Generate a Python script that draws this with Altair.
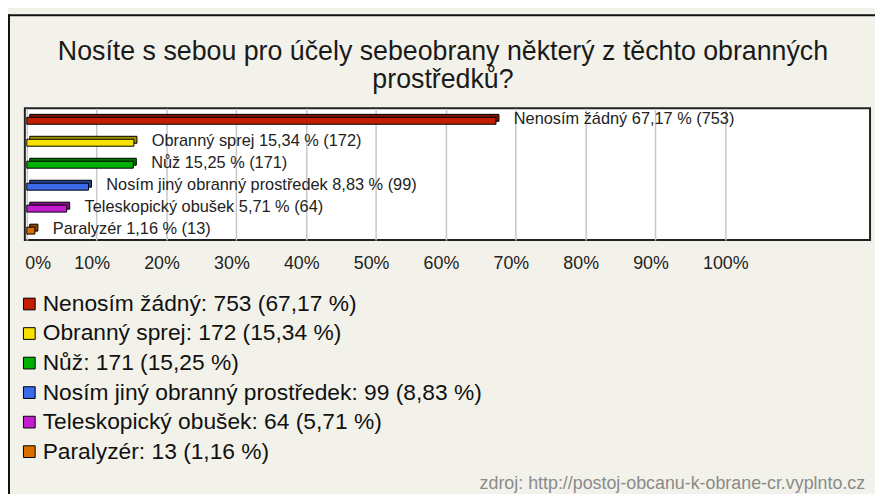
import altair as alt
import pandas as pd

categories = ["Nenosím žádný", "Obranný sprej", "Nůž",
              "Nosím jiný obranný prostředek", "Teleskopický obušek", "Paralyzér"]
counts = [753, 172, 171, 99, 64, 13]
percents = [67.17, 15.34, 15.25, 8.83, 5.71, 1.16]
colors = ["#c41e00", "#f8e000", "#00b000", "#3a6ae8", "#c41cd0", "#dc6e00"]
axis_ticks = [0, 10, 20, 30, 40, 50, 60, 70, 80, 90, 100]
title_lines = ["Nosíte s sebou pro účely sebeobrany některý z těchto obranných",
               "prostředků?"]
source_text = "zdroj: http://postoj-obcanu-k-obrane-cr.vyplnto.cz"

FONT = "Liberation Sans, Arial, sans-serif"


def fmt(p):
    return f"{p:.2f}".replace(".", ",")


bar_labels = [f"{c} {fmt(p)} % ({n})" for c, p, n in zip(categories, percents, counts)]
legend_labels = [f"{c}: {n} ({fmt(p)} %)" for c, p, n in zip(categories, percents, counts)]

df = pd.DataFrame({
    "cat": categories,
    "pct": percents,
    "base": [0] * len(categories),
    "count": counts,
    "bar_label": bar_labels,
    "legend_label": legend_labels,
})

y_enc = alt.Y("cat:N", sort=categories, axis=None,
              scale=alt.Scale(paddingInner=0, paddingOuter=0))
x_enc = alt.X(
    "pct:Q",
    scale=alt.Scale(domain=[-0.28, 120.72], nice=False, zero=False),
    axis=alt.Axis(
        values=axis_ticks, labelExpr="datum.value + '%'", title=None,
        domain=False, ticks=False, grid=True, gridColor="#c8c8c8", gridWidth=1.5,
        labelFont=FONT, labelFontSize=18, labelColor="#222", labelPadding=15,
        labelAlign="left",
        labelOffset={"condition": {"test": "datum.value == 0", "value": -2}, "value": -23},
    ),
)
color_enc = alt.Color(
    "legend_label:N", sort=legend_labels,
    scale=alt.Scale(domain=legend_labels, range=colors),
    legend=alt.Legend(
        orient="none", legendX=-7, legendY=186, title=None,
        symbolType="square", symbolSize=140, symbolStrokeColor="#000",
        symbolStrokeWidth=1, symbolOpacity=1,
        labelFont=FONT, labelFontSize=23, labelColor="#111", labelLimit=900,
        rowPadding=5.8, labelOffset=2, padding=0,
    ),
)

base = alt.Chart(df)

back = base.mark_bar(size=7, stroke="#000", strokeWidth=1, xOffset=3, x2Offset=3,
                     yOffset=-1.5, y2Offset=-1.5, opacity=1).encode(
    x=x_enc, x2="base:Q", y=y_enc, color=color_enc)
back_shade = base.mark_bar(size=7, color="#000", opacity=0.35, xOffset=3, x2Offset=3,
                           yOffset=-1.5, y2Offset=-1.5).encode(
    x="pct:Q", x2="base:Q", y=alt.Y("cat:N", sort=categories))
front = base.mark_bar(size=7, stroke="#000", strokeWidth=1, yOffset=1.5,
                      y2Offset=1.5, opacity=1).encode(
    x="pct:Q", x2="base:Q", y=alt.Y("cat:N", sort=categories), color=color_enc)
labels = base.mark_text(align="left", baseline="middle", dx=18, dy=0, font=FONT,
                        fontSize=16.5, color="#222").encode(
    x="pct:Q", y=alt.Y("cat:N", sort=categories), text="bar_label:N")

one = pd.DataFrame({"a": [0]})
title1 = alt.Chart(pd.DataFrame({"t": [title_lines[0]]})).mark_text(
    font=FONT, fontSize=27, align="center", baseline="middle", color="#1a1a1a").encode(
    text="t:N", x=alt.value(422), y=alt.value(-57))
title2 = alt.Chart(pd.DataFrame({"t": [title_lines[1]]})).mark_text(
    font=FONT, fontSize=27, align="center", baseline="middle", color="#1a1a1a").encode(
    text="t:N", x=alt.value(422), y=alt.value(-28))
source = alt.Chart(pd.DataFrame({"t": [source_text]})).mark_text(
    font=FONT, fontSize=18, align="right", baseline="middle", color="#8a8a8a").encode(
    text="t:N", x=alt.value(848), y=alt.value(379))
frame_top = alt.Chart(one).mark_rule(color="#111", strokeWidth=2).encode(
    x=alt.value(-17), x2=alt.value(870), y=alt.value(-94))
frame_left = alt.Chart(one).mark_rule(color="#111", strokeWidth=2).encode(
    x=alt.value(-16), y=alt.value(-95), y2=alt.value(420))

chart = alt.layer(
    back, back_shade, front, labels, title1, title2, source, frame_top, frame_left
).properties(
    width=853, height=133,
    autosize=alt.AutoSizeParams(type="none"),
    padding={"left": 17, "top": 99, "right": 5, "bottom": 254},
    background="#f3f2ea",
).configure_view(stroke="#222", strokeWidth=2, fill="white")

chart.save("out.html", embed_options={"renderer": "svg", "actions": False})
